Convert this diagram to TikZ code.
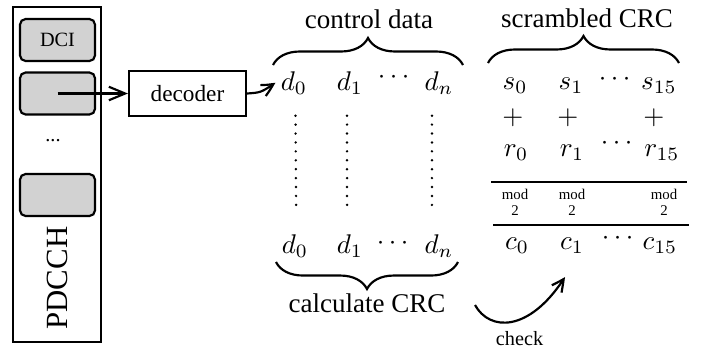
\documentclass[tikz,border=0pt]{standalone}
\usepackage{amsmath}
\usepackage{fontspec}
\setmainfont{Liberation Serif}
\usetikzlibrary{arrows.meta}
\usetikzlibrary{bending}
\usetikzlibrary{decorations.pathreplacing}
\usetikzlibrary{positioning}

\begin{document}
\begin{tikzpicture}[
			x = 0.37pt, y = -0.37pt,
			every node/.style = {inner sep = 1pt},
			frame/.style = {thick, draw = black},
			cand/.style = {
				frame, rounded corners = 2pt, fill = gray!35,
				minimum width = 27.7pt, minimum height = 15.5pt,
			},
			sym/.style = {anchor = base},
			arrow/.style = {thick, -{Straight Barb[length = 6pt, width = 5pt]}},
			bent/.style = {thick, -{Straight Barb[length = 4.5pt, width = 4.5pt, bend]}},
			brace/.style = {
				thick, decorate,
				decoration = {brace, amplitude = 10pt},
			},
			dots/.style = {
				line width = 1pt, line cap = round,
				dash pattern = on 0pt off 3.3pt,
				shorten < = 6.8pt, shorten > = 6.8pt,
			},
			rule/.style = {thick},
			modlabel/.style = {font = \fontsize{5.5}{6}\selectfont, align = center},
		]
		\useasboundingbox (0, 0) rectangle (715, 349);

		% PDCCH with its candidates
		\node[frame, minimum width = 32.6pt, minimum height = 124pt] (pdcch) at (57, 174.5) {};
		\node[cand, font = \fontsize{7.5}{9}\selectfont] (cand1) at (57.5, 40) {DCI};
		\node[cand] (cand2) at (57.5, 93.5) {};
		\node[sym, font = \fontsize{7.5}{9}\selectfont] (more) at (53, 141) {...};
		\node[cand] (cand3) at (57.5, 195) {};
		\node[rotate = 90, font = \fontsize{11.4}{13}\selectfont] (name) at (57, 278) {PDCCH};

		\node[
			frame, minimum width = 43.3pt, minimum height = 16.6pt,
			font = \fontsize{8.6}{10}\selectfont,
			right = 11.8pt of cand2,
		] (dec) {decoder};
		\draw[arrow] (cand2.center) -- (dec);

		% control data
		\node[sym] (d0) at (294, 90) {$d_0$};
		\node[sym] (d1) at (350, 90) {$d_1$};
		\node (dd) at (396, 77) {$\cdots$};
		\node[sym] (dn) at (439, 90) {$d_n$};
		\draw[bent] (dec.east) .. controls +(14, -1) .. ([xshift = -0.8pt]d0.west);

		\node[sym] (d0b) at (295, 253) {$d_0$};
		\node[sym] (d1b) at (350, 253) {$d_1$};
		\node (ddb) at (395, 243) {$\cdots$};
		\node[sym] (dnb) at (439, 253) {$d_n$};

		\draw[dots] ([xshift = 0.5pt]d0.south) -- ([xshift = 0.5pt]d0b.north);
		\draw[dots] ([xshift = -1.1pt]d1.south) -- ([xshift = -1.1pt]d1b.north);
		\draw[dots] ([xshift = -2.6pt]dn.south) -- ([xshift = -2.6pt]dnb.north);

		\draw[brace] (273, 65) -- (463, 65);
		\node[sym] (ctrl) at (369, 28) {control data};
		\draw[brace] (458, 262) -- (276, 262);
		\node[sym] (calc) at (367, 312) {calculate CRC};

		% scrambled CRC
		\draw[brace] (488, 63) -- (679, 63);
		\node[sym] (scr) at (587, 27) {scrambled CRC};

		\node[sym] (s0) at (515, 89) {$s_0$};
		\node[sym] (s1) at (571, 89) {$s_1$};
		\node (sd) at (617, 79) {$\cdots$};
		\node[sym] (s15) at (659, 89) {$s_{15}$};

		\node (p0) at (513, 118) {$+$};
		\node (p1) at (568, 118) {$+$};
		\node (p15) at (654, 118) {$+$};

		\node[sym] (r0) at (516, 156) {$r_0$};
		\node[sym] (r1) at (572, 156) {$r_1$};
		\node (rd) at (619, 143) {$\cdots$};
		\node[sym] (r15) at (662, 156) {$r_{15}$};

		\draw[rule] (491, 182) -- (687, 182);
		\node[modlabel] (m0) at (515, 202) {mod\\2};
		\node[modlabel] (m1) at (572, 202) {mod\\2};
		\node[modlabel] (m15) at (664, 202) {mod\\2};
		\draw[rule] (493, 225) -- (689, 225);

		\node[sym] (c0) at (517, 249) {$c_0$};
		\node[sym] (c1) at (572, 249) {$c_1$};
		\node (cd) at (620, 238) {$\cdots$};
		\node[sym] (c15) at (660, 249) {$c_{15}$};

		% check
		\coordinate (chkA) at (475, 305);
		\coordinate (chkB) at (565, 277);
		\draw[bent] (chkA) .. controls (490, 332) and (530, 332) .. (chkB);
		\node[sym, font = \fontsize{7.5}{9}\selectfont] (chk) at (519.5, 345) {check};

	\end{tikzpicture}
\end{document}
